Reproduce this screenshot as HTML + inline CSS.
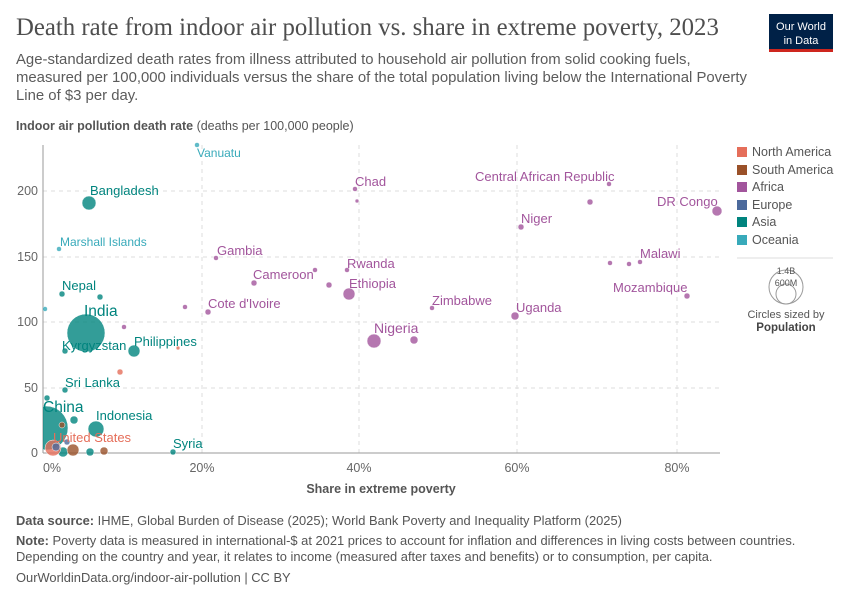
<!DOCTYPE html>
<html><head><meta charset="utf-8"><style>
body{margin:0;background:#fff;font-family:"Liberation Sans",sans-serif;}
svg text{font-family:"Liberation Sans",sans-serif;}
</style></head><body>
<svg width="850" height="600" viewBox="0 0 850 600" xmlns="http://www.w3.org/2000/svg">
<text x="16" y="35" font-size="24.8" fill="#4e4e4e" style="font-family:'Liberation Serif',serif">Death rate from indoor air pollution vs. share in extreme poverty, 2023</text>
<rect x="769" y="14" width="64" height="38" fill="#002147"/><rect x="769" y="49" width="64" height="3" fill="#ce261e"/>
<text x="801" y="30" font-size="11" fill="#fff" text-anchor="middle">Our World</text>
<text x="801" y="44" font-size="11" fill="#fff" text-anchor="middle">in Data</text>
<g font-size="14.9" fill="#5b5b5b">
<text x="16" y="64">Age-standardized death rates from illness attributed to household air pollution from solid cooking fuels,</text>
<text x="16" y="82">measured per 100,000 individuals versus the share of the total population living below the International Poverty</text>
<text x="16" y="100">Line of $3 per day.</text></g>
<text x="16" y="130" font-size="12.5" fill="#555"><tspan font-weight="bold">Indoor air pollution death rate</tspan> (deaths per 100,000 people)</text>
<g stroke="#ddd" stroke-dasharray="4,4">
<line x1="43" x2="720" y1="388" y2="388"/><line x1="43" x2="720" y1="322" y2="322"/><line x1="43" x2="720" y1="257" y2="257"/><line x1="43" x2="720" y1="191" y2="191"/>
<line x1="202" x2="202" y1="145" y2="453"/><line x1="359" x2="359" y1="145" y2="453"/><line x1="517" x2="517" y1="145" y2="453"/><line x1="677" x2="677" y1="145" y2="453"/>
</g>
<line x1="43" x2="43" y1="145" y2="453" stroke="#999"/>
<line x1="43" x2="720" y1="453" y2="453" stroke="#999"/>
<g font-size="12.5" fill="#666" text-anchor="end">
<text x="38" y="457">0</text><text x="38" y="392">50</text><text x="38" y="326">100</text><text x="38" y="261">150</text><text x="38" y="195">200</text></g>
<g font-size="12.5" fill="#666" text-anchor="middle">
<text x="52" y="472">0%</text><text x="202" y="472">20%</text><text x="359" y="472">40%</text><text x="517" y="472">60%</text><text x="677" y="472">80%</text></g>
<text x="381" y="493" font-size="12.5" font-weight="bold" fill="#555" text-anchor="middle">Share in extreme poverty</text>
<clipPath id="c"><rect x="43" y="140" width="690" height="320"/></clipPath>
<g clip-path="url(#c)" fill-opacity="0.8" stroke="#fff" stroke-width="0.5">
<circle cx="86" cy="333" r="19" fill="#00847e"/>
<circle cx="46" cy="428" r="22" fill="#00847e"/>
<circle cx="96" cy="429" r="8" fill="#00847e"/>
<circle cx="89" cy="203" r="7" fill="#00847e"/>
<circle cx="134" cy="351" r="6" fill="#00847e"/>
<circle cx="62" cy="294" r="3" fill="#00847e"/>
<circle cx="100" cy="297" r="3" fill="#00847e"/>
<circle cx="65" cy="351" r="3" fill="#00847e"/>
<circle cx="65" cy="390" r="3" fill="#00847e"/>
<circle cx="74" cy="420" r="4" fill="#00847e"/>
<circle cx="173" cy="452" r="3" fill="#00847e"/>
<circle cx="90" cy="452" r="4" fill="#00847e"/>
<circle cx="63" cy="452" r="5" fill="#00847e"/>
<circle cx="47" cy="398" r="3" fill="#00847e"/>
<circle cx="197" cy="145" r="2.5" fill="#38aaba"/>
<circle cx="59" cy="249" r="2.5" fill="#38aaba"/>
<circle cx="45" cy="309" r="2.5" fill="#38aaba"/>
<circle cx="53" cy="448" r="8" fill="#e56e5a"/>
<circle cx="120" cy="372" r="3" fill="#e56e5a"/>
<circle cx="178" cy="348" r="2" fill="#e56e5a"/>
<circle cx="73" cy="450" r="6" fill="#9a5129"/>
<circle cx="104" cy="451" r="4" fill="#9a5129"/>
<circle cx="62" cy="425" r="3" fill="#9a5129"/>
<circle cx="67" cy="442" r="3" fill="#4c6a9c"/>
<circle cx="56" cy="447" r="4" fill="#4c6a9c"/>
<circle cx="374" cy="341" r="7" fill="#a2559c"/>
<circle cx="349" cy="294" r="6" fill="#a2559c"/>
<circle cx="717" cy="211" r="5" fill="#a2559c"/>
<circle cx="515" cy="316" r="4" fill="#a2559c"/>
<circle cx="414" cy="340" r="4" fill="#a2559c"/>
<circle cx="521" cy="227" r="3" fill="#a2559c"/>
<circle cx="590" cy="202" r="3" fill="#a2559c"/>
<circle cx="609" cy="184" r="2.5" fill="#a2559c"/>
<circle cx="355" cy="189" r="2.5" fill="#a2559c"/>
<circle cx="357" cy="201" r="2" fill="#a2559c"/>
<circle cx="216" cy="258" r="2.5" fill="#a2559c"/>
<circle cx="254" cy="283" r="3" fill="#a2559c"/>
<circle cx="315" cy="270" r="2.5" fill="#a2559c"/>
<circle cx="329" cy="285" r="3" fill="#a2559c"/>
<circle cx="347" cy="270" r="2.5" fill="#a2559c"/>
<circle cx="208" cy="312" r="3" fill="#a2559c"/>
<circle cx="185" cy="307" r="2.5" fill="#a2559c"/>
<circle cx="124" cy="327" r="2.5" fill="#a2559c"/>
<circle cx="432" cy="308" r="2.5" fill="#a2559c"/>
<circle cx="610" cy="263" r="2.5" fill="#a2559c"/>
<circle cx="629" cy="264" r="2.5" fill="#a2559c"/>
<circle cx="640" cy="262" r="2.5" fill="#a2559c"/>
<circle cx="687" cy="296" r="3" fill="#a2559c"/>
</g>
<g font-size="13">
<text x="90" y="195" fill="#00847e">Bangladesh</text>
<text x="62" y="290" fill="#00847e">Nepal</text>
<text x="84" y="316" fill="#00847e" font-size="15.5">India</text>
<text x="62" y="350" fill="#00847e">Kyrgyzstan</text>
<text x="134" y="346" fill="#00847e">Philippines</text>
<text x="65" y="387" fill="#00847e">Sri Lanka</text>
<text x="43" y="412" fill="#00847e" font-size="15.5">China</text>
<text x="96" y="420" fill="#00847e">Indonesia</text>
<text x="173" y="448" fill="#00847e">Syria</text>
<text x="53" y="442" fill="#e56e5a">United States</text>
<text x="197" y="157" fill="#38aaba" font-size="12">Vanuatu</text>
<text x="60" y="246" fill="#38aaba" font-size="12">Marshall Islands</text>
<g fill="#a2559c">
<text x="355" y="186">Chad</text>
<text x="475" y="181">Central African Republic</text>
<text x="657" y="206">DR Congo</text>
<text x="521" y="223">Niger</text>
<text x="640" y="258">Malawi</text>
<text x="613" y="292">Mozambique</text>
<text x="217" y="255">Gambia</text>
<text x="253" y="279">Cameroon</text>
<text x="347" y="268">Rwanda</text>
<text x="349" y="288">Ethiopia</text>
<text x="208" y="308">Cote d'Ivoire</text>
<text x="432" y="305">Zimbabwe</text>
<text x="516" y="312">Uganda</text>
<text x="374" y="333" font-size="14">Nigeria</text>
</g></g>
<g font-size="12.5" fill="#555">
<rect x="737" y="147" width="10" height="10" fill="#e56e5a"/><text x="752" y="156">North America</text>
<rect x="737" y="165" width="10" height="10" fill="#9a5129"/><text x="752" y="174">South America</text>
<rect x="737" y="182" width="10" height="10" fill="#a2559c"/><text x="752" y="191">Africa</text>
<rect x="737" y="200" width="10" height="10" fill="#4c6a9c"/><text x="752" y="209">Europe</text>
<rect x="737" y="217" width="10" height="10" fill="#00847e"/><text x="752" y="226">Asia</text>
<rect x="737" y="235" width="10" height="10" fill="#38aaba"/><text x="752" y="244">Oceania</text>
</g>
<line x1="737" x2="833" y1="258" y2="258" stroke="#ddd"/>
<circle cx="786" cy="287" r="17" fill="none" stroke="#999"/>
<circle cx="786" cy="294" r="10" fill="none" stroke="#999"/>
<text x="786" y="274" font-size="9" fill="#555" text-anchor="middle">1.4B</text>
<text x="786" y="286" font-size="9" fill="#555" text-anchor="middle">600M</text>
<text x="786" y="318" font-size="11" fill="#555" text-anchor="middle">Circles sized by</text>
<text x="786" y="331" font-size="11.5" font-weight="bold" fill="#444" text-anchor="middle">Population</text>
<g font-size="12.9" fill="#555">
<text x="16" y="525"><tspan font-weight="bold">Data source:</tspan> IHME, Global Burden of Disease (2025); World Bank Poverty and Inequality Platform (2025)</text>
<text x="16" y="545"><tspan font-weight="bold">Note:</tspan> Poverty data is measured in international-$ at 2021 prices to account for inflation and differences in living costs between countries.</text>
<text x="16" y="561">Depending on the country and year, it relates to income (measured after taxes and benefits) or to consumption, per capita.</text>
<text x="16" y="582">OurWorldinData.org/indoor-air-pollution | CC BY</text>
</g>
</svg>
</body></html>
